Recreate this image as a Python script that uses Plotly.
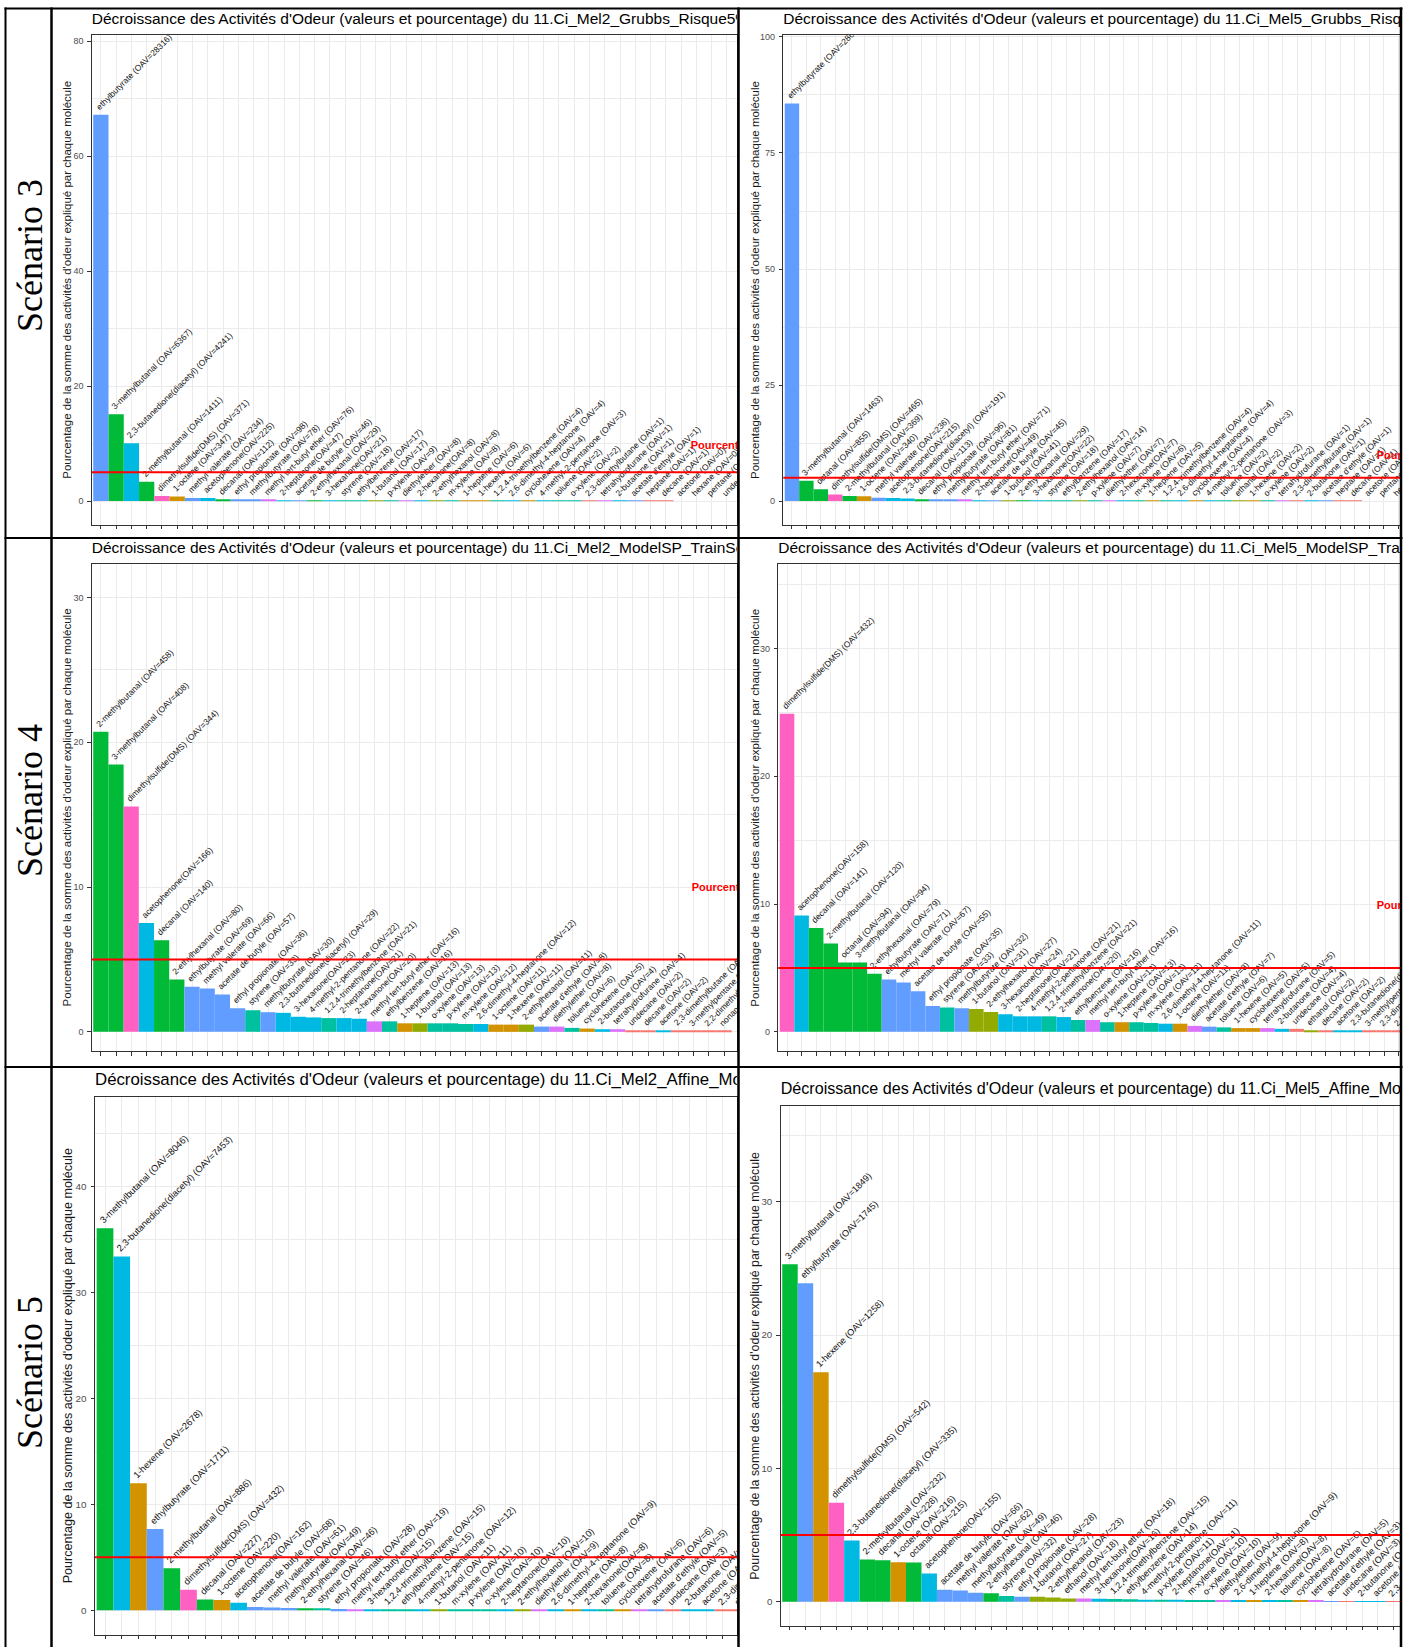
import plotly.graph_objects as go

# ======================= DATA =======================
row_labels = ["Scénario 3", "Scénario 4", "Scénario 5"]
title_prefix = "Décroissance des Activités d'Odeur (valeurs et pourcentage) du "
panel_datasets = [
    "11.Ci_Mel2_Grubbs_Risque5%",
    "11.Ci_Mel5_Grubbs_Risque5%",
    "11.Ci_Mel2_ModelSP_TrainSet",
    "11.Ci_Mel5_ModelSP_TrainSet",
    "11.Ci_Mel2_Affine_Modele",
    "11.Ci_Mel5_Affine_Modele",
]
y_title = "Pourcentage de la somme des activités d'odeur expliqué par chaque molécule"
threshold = 5
threshold_label = "Pourcentage seuil = 5%"

mel2_grubbs_molecules = [
    "ethylbutyrate", "3-methylbutanal", "2,3-butanedione(diacetyl)", "2-methylbutanal",
    "dimethylsulfide(DMS)", "1-octene", "methyl valerate", "acetophenone", "decanal",
    "ethyl propionate", "methylbutyrate", "methyl tert-butyl ether", "2-heptanone",
    "acetate de butyle", "2-ethylhexanal", "3-hexanone", "styrene", "ethylbenzene",
    "1-butanol", "p-xylene", "diethylether", "2-hexanone", "2-ethylhexanol", "m-xylene",
    "1-heptene", "1-hexene", "1,2,4-trimethylbenzene", "2,6-dimethyl-4-heptanone",
    "cyclohexene", "4-methyl-2-pentanone", "toluene", "o-xylene", "2,3-dimethylbutane",
    "tetrahydrofurane", "2-butanone", "acetate d'ethyle", "heptane", "decane", "acetone",
    "hexane", "pentane", "undecane",
]
mel2_grubbs_oav = [
    28316, 6367, 4241, 1411, 371, 347, 234, 225, 112, 98, 78, 76, 47, 46, 29, 21, 18, 17,
    17, 9, 8, 8, 8, 8, 6, 6, 4, 4, 4, 3, 2, 2, 1, 1, 1, 1, 1, 1, 0, 0, 0, 0,
]

mel5_grubbs_molecules = [
    "ethylbutyrate", "3-methylbutanal", "octanal", "dimethylsulfide(DMS)", "2-methylbutanal",
    "1-octene", "methyl valerate", "acetophenone", "2,3-butanedione(diacetyl)", "decanal",
    "ethyl propionate", "methylbutyrate", "methyl tert-butyl ether", "2-heptanone",
    "acetate de butyle", "1-butanol", "2-ethylhexanal", "3-hexanone", "styrene",
    "ethylbenzene", "2-ethylhexanol", "p-xylene", "diethylether", "2-hexanone", "m-xylene",
    "1-heptene", "1,2,4-trimethylbenzene", "2,6-dimethyl-4-heptanone", "cyclohexene",
    "4-methyl-2-pentanone", "toluene", "ethanol", "1-hexene", "o-xylene", "tetrahydrofurane",
    "2,3-dimethylbutane", "2-butanone", "acetate d'ethyle", "heptane", "decane", "acetone",
    "pentane", "hexane",
]
mel5_grubbs_oav = [
    28650, 1463, 855, 465, 369, 340, 236, 215, 191, 113, 96, 81, 71, 49, 45, 41, 29, 22, 18,
    17, 14, 7, 7, 7, 6, 5, 4, 4, 4, 3, 2, 2, 2, 2, 1, 1, 1, 1, 1, 1, 0, 0, 0,
]

mel2_modelsp_molecules = [
    "2-methylbutanal", "3-methylbutanal", "dimethylsulfide(DMS)", "acetophenone", "decanal",
    "2-ethylhexanal", "ethylbutyrate", "methyl valerate", "acetate de butyle",
    "ethyl propionate", "styrene", "methylbutyrate", "2,3-butanedione(diacetyl)",
    "3-hexanone", "4-methyl-2-pentanone", "1,2,4-trimethylbenzene", "2-heptanone",
    "2-hexanone", "methyl tert-butyl ether", "ethylbenzene", "1-heptene", "1-butanol",
    "o-xylene", "p-xylene", "m-xylene", "2,6-dimethyl-4-heptanone", "1-octene", "1-hexene",
    "2-ethylhexanol", "acetate d'ethyle", "diethylether", "toluene", "cyclohexene",
    "2-butanone", "tetrahydrofurane", "undecane", "decane", "acetone", "2,3-dimethylbutane",
    "3-methylpentane", "2,2-dimethylbutane", "nonane",
]
mel2_modelsp_oav = [
    458, 408, 344, 166, 140, 80, 69, 66, 57, 36, 33, 30, 29, 23, 22, 21, 21, 20, 16, 16, 13,
    13, 13, 13, 12, 12, 11, 11, 11, 8, 8, 6, 5, 4, 4, 2, 2, 2, 2, 1, 1, 1,
]

mel5_modelsp_molecules = [
    "dimethylsulfide(DMS)", "acetophenone", "decanal", "2-methylbutanal", "octanal",
    "3-methylbutanal", "2-ethylhexanal", "ethylbutyrate", "methyl valerate",
    "acetate de butyle", "ethyl propionate", "styrene", "methylbutyrate", "1-butanol",
    "2-ethylhexanol", "3-hexanone", "2-heptanone", "4-methyl-2-pentanone",
    "1,2,4-trimethylbenzene", "2-hexanone", "ethylbenzene", "methyl tert-butyl ether",
    "o-xylene", "1-heptene", "p-xylene", "m-xylene", "2,6-dimethyl-4-heptanone", "1-octene",
    "diethylether", "acetate d'ethyle", "toluene", "1-hexene", "cyclohexene",
    "tetrahydrofurane", "2-butanone", "undecane", "ethanol", "decane", "acetone",
    "2,3-butanedione(diacetyl)", "3-methylpentane", "2,3-dimethylbutane", "2,2-dimethylbutane",
]
mel5_modelsp_oav = [
    432, 158, 141, 120, 94, 94, 79, 71, 67, 55, 35, 33, 32, 31, 27, 24, 21, 21, 21, 20, 16,
    16, 13, 13, 13, 12, 11, 11, 8, 7, 6, 5, 5, 5, 4, 4, 2, 2, 2, 2, 1, 1, 1,
]

mel2_affine_molecules = [
    "3-methylbutanal", "2,3-butanedione(diacetyl)", "1-hexene", "ethylbutyrate",
    "2-methylbutanal", "dimethylsulfide(DMS)", "decanal", "1-octene", "acetophenone",
    "acetate de butyle", "methyl valerate", "methylbutyrate", "2-ethylhexanal", "styrene",
    "ethyl propionate", "methyl tert-butyl ether", "3-hexanone", "1,2,4-trimethylbenzene",
    "ethylbenzene", "4-methyl-2-pentanone", "1-butanol", "m-xylene", "p-xylene", "o-xylene",
    "2-heptanone", "2-ethylhexanol", "diethylether", "2,6-dimethyl-4-heptanone", "1-heptene",
    "2-hexanone", "toluene", "cyclohexene", "tetrahydrofurane", "acetate d'ethyle",
    "undecane", "2-butanone", "acetone", "2,3-dimethylbutane", "decane",
]
mel2_affine_oav = [
    8046, 7453, 2678, 1711, 886, 432, 227, 220, 162, 68, 61, 49, 46, 46, 28, 19, 15, 15, 15,
    12, 11, 11, 10, 10, 10, 10, 9, 9, 8, 8, 8, 6, 6, 5, 3, 3, 2, 2, 1,
]

mel5_affine_molecules = [
    "3-methylbutanal", "ethylbutyrate", "1-hexene", "dimethylsulfide(DMS)",
    "2,3-butanedione(diacetyl)", "2-methylbutanal", "decanal", "1-octene", "octanal",
    "acetophenone", "acetate de butyle", "methyl valerate", "methylbutyrate", "2-ethylhexanal",
    "styrene", "ethyl propionate", "1-butanol", "2-ethylhexanol", "ethanol",
    "methyl tert-butyl ether", "3-hexanone", "1,2,4-trimethylbenzene", "ethylbenzene",
    "4-methyl-2-pentanone", "p-xylene", "2-heptanone", "m-xylene", "o-xylene", "diethylether",
    "2,6-dimethyl-4-heptanone", "1-heptene", "2-hexanone", "toluene", "cyclohexene",
    "tetrahydrofurane", "acetate d'ethyle", "undecane", "2-butanone", "acetone",
    "2,3-dimethylbutane",
]
mel5_affine_oav = [
    1849, 1745, 1258, 542, 335, 232, 228, 216, 215, 155, 66, 62, 49, 46, 32, 28, 27, 23, 18,
    18, 16, 15, 14, 11, 11, 11, 10, 10, 9, 9, 8, 8, 8, 6, 5, 3, 3, 2, 2, 1,
]

# chemical family of each molecule (colour grouping of the bars)
molecule_family = {
    "ethylbutyrate": "Esters", "methyl valerate": "Esters", "ethyl propionate": "Esters",
    "methylbutyrate": "Esters", "acetate de butyle": "Esters", "acetate d'ethyle": "Esters",
    "3-methylbutanal": "Aldéhydes", "2-methylbutanal": "Aldéhydes", "decanal": "Aldéhydes",
    "octanal": "Aldéhydes", "2-ethylhexanal": "Aldéhydes",
    "2,3-butanedione(diacetyl)": "Cétones", "acetophenone": "Cétones", "2-heptanone": "Cétones",
    "3-hexanone": "Cétones", "2-hexanone": "Cétones", "2,6-dimethyl-4-heptanone": "Cétones",
    "4-methyl-2-pentanone": "Cétones", "2-butanone": "Cétones", "acetone": "Cétones",
    "dimethylsulfide(DMS)": "Soufrés",
    "1-octene": "Alcènes", "1-heptene": "Alcènes", "1-hexene": "Alcènes", "cyclohexene": "Alcènes",
    "methyl tert-butyl ether": "Ethers", "diethylether": "Ethers", "tetrahydrofurane": "Ethers",
    "styrene": "Aromatiques", "ethylbenzene": "Aromatiques", "p-xylene": "Aromatiques",
    "m-xylene": "Aromatiques", "o-xylene": "Aromatiques", "toluene": "Aromatiques",
    "1,2,4-trimethylbenzene": "Aromatiques",
    "1-butanol": "Alcools", "2-ethylhexanol": "Alcools", "ethanol": "Alcools",
    "2,3-dimethylbutane": "Alcanes", "2,2-dimethylbutane": "Alcanes", "3-methylpentane": "Alcanes",
    "heptane": "Alcanes", "decane": "Alcanes", "hexane": "Alcanes", "pentane": "Alcanes",
    "undecane": "Alcanes", "nonane": "Alcanes",
}

panel_molecules = [mel2_grubbs_molecules, mel5_grubbs_molecules, mel2_modelsp_molecules,
                   mel5_modelsp_molecules, mel2_affine_molecules, mel5_affine_molecules]
panel_oav = [mel2_grubbs_oav, mel5_grubbs_oav, mel2_modelsp_oav,
             mel5_modelsp_oav, mel2_affine_oav, mel5_affine_oav]

# ======================= STYLE / LAYOUT =======================
W, H = 1416, 1647
SANS = "Liberation Sans, Arial, sans-serif"
SERIF = "Liberation Serif, Times New Roman, serif"
FAMILY_COLORS = {
    "Alcanes": "#F8766D", "Alcènes": "#D39200", "Alcools": "#93AA00", "Aldéhydes": "#00BA38",
    "Aromatiques": "#00C19F", "Cétones": "#00B9E3", "Esters": "#619CFF", "Ethers": "#DB72FB",
    "Soufrés": "#FF61C3",
}
NO_SPACE = {"acetophenone", "2-heptanone", "3-hexanone", "2-hexanone"}
LABEL_FS = 8.5
TITLE_FS = 15.5
TICK_FS = 9
YTITLE_FS = 11.5
RED_FS = 11

# pixel geometry of each panel: plot area (left, right, top, bottom), px per category,
# y range, y tick step, title centre, y-title x, red note position, panel left/right,
# text scale of the (resized) panel image, title scale
GEOM = [
    dict(plot=(91.7, 737.0, 32.3, 522.7), unit=15.27, yr=(-4.11, 81.02), dtick=20,
         title_y=17.0, ytx=66.7, red=(39.63, 9.55), pl=53, pr=737, s=1.0, ts=1.0),
    dict(plot=(783.3, 1400.0, 32.3, 522.7), unit=14.43, yr=(-5.10, 100.37), dtick=25,
         title_y=17.3, ytx=755.0, red=(41.52, 9.68), pl=741, pr=1400, s=1.0, ts=1.0),
    dict(plot=(91.7, 737.0, 562.3, 1050.0), unit=15.2, yr=(-1.33, 32.30), dtick=10,
         title_y=547.3, ytx=66.7, red=(39.87, 9.93), pl=53, pr=737, s=1.0, ts=1.0),
    dict(plot=(778.3, 1400.0, 562.3, 1050.0), unit=14.56, yr=(-1.51, 36.59), dtick=10,
         title_y=547.3, ytx=755.0, red=(41.5, 9.82), pl=741, pr=1400, s=1.0, ts=1.0),
    dict(plot=(95.0, 737.0, 1096.3, 1634.7), unit=16.7, yr=(-2.30, 48.40), dtick=10,
         title_y=1079.5, ytx=68.3, red=None, pl=53, pr=737, s=1.095, ts=1.085),
    dict(plot=(780.7, 1400.0, 1105.0, 1625.7), unit=15.47, yr=(-1.80, 37.18), dtick=10,
         title_y=1089.1, ytx=755.0, red=None, pl=741, pr=1400, s=1.075, ts=1.04),
]
ROW_LABEL_POS = [(29.4, 253), (29.4, 799), (29.4, 1372)]

ARIAL = {' ': 278, '(': 333, ')': 333, '=': 584, '-': 333, ',': 278, "'": 191, '.': 278,
         '_': 556, '%': 889, 'a': 556, 'b': 556, 'c': 500, 'd': 556, 'e': 556, 'f': 278,
         'g': 556, 'h': 556, 'i': 222, 'j': 222, 'k': 500, 'l': 222, 'm': 833, 'n': 556,
         'o': 556, 'p': 556, 'q': 556, 'r': 333, 's': 500, 't': 278, 'u': 556, 'v': 500,
         'w': 722, 'x': 500, 'y': 500, 'z': 500, 'A': 667, 'O': 778, 'V': 667, 'D': 722,
         'M': 833, 'S': 667, 'C': 722}


def text_w(s, size):
    return sum(ARIAL.get(ch, 556) for ch in s) * size / 1000.0


def fx(px):
    return px / W


def fy(py):
    return 1 - py / H


fig = go.Figure()
layout_axes = {}
shapes = []
annotations = []

for i, (g, mols, oav) in enumerate(zip(GEOM, panel_molecules, panel_oav)):
    k = i + 1
    s = g["s"]
    xa, ya = ("x", "y") if k == 1 else (f"x{k}", f"y{k}")
    x0p, x1p, y0p, y1p = g["plot"]
    xr = (0.4, 0.4 + (x1p - x0p) / g["unit"])

    total = sum(oav)
    pct = [v / total * 100 for v in oav]
    cats = list(range(1, len(mols) + 1))
    colors = [FAMILY_COLORS[molecule_family[m]] for m in mols]
    labels = [f"{m}{'' if m in NO_SPACE else ' '}(OAV={v})" for m, v in zip(mols, oav)]

    fig.add_trace(go.Bar(
        x=cats, y=pct, width=1, marker=dict(color=colors, line=dict(width=0)),
        xaxis=xa, yaxis=ya, hoverinfo="skip", showlegend=False))

    # rotated labels: start of text at bar centre (shift rotated box to the right)
    lfs = LABEL_FS * s
    th = 1.117 * lfs
    lx = [c + (text_w(t, lfs) - th) * 0.35355 / g["unit"] for c, t in zip(cats, labels)]
    fig.add_trace(go.Bar(
        x=lx, y=[max(p, 1e-3) for p in pct], width=1,
        marker=dict(color="rgba(0,0,0,0)", line=dict(width=0)),
        text=labels, textposition="outside", textangle=-45, constraintext="none",
        cliponaxis=True, textfont=dict(family=SANS, size=lfs, color="#111111"),
        xaxis=xa, yaxis=ya, hoverinfo="skip", showlegend=False))

    if g["red"] is not None:
        fig.add_trace(go.Scatter(
            x=[g["red"][0]], y=[g["red"][1]], mode="text", text=[threshold_label],
            textposition="middle right", cliponaxis=True,
            textfont=dict(family=SANS, size=RED_FS * s, color="#FF0000", weight="bold"),
            xaxis=xa, yaxis=ya, hoverinfo="skip", showlegend=False))

    layout_axes["xaxis" if k == 1 else f"xaxis{k}"] = dict(
        domain=[fx(x0p), fx(x1p)], range=list(xr), anchor=ya, tickmode="linear", tick0=1,
        dtick=1, showticklabels=False, ticks="outside", ticklen=3.5, tickcolor="#333333",
        tickwidth=1, showgrid=True, gridcolor="#EBEBEB", gridwidth=1, zeroline=False,
        showline=True, linecolor="#333333", linewidth=1, mirror=True, fixedrange=True)
    layout_axes["yaxis" if k == 1 else f"yaxis{k}"] = dict(
        domain=[fy(y1p), fy(y0p)], range=list(g["yr"]), anchor=xa, tickmode="linear",
        tick0=0, dtick=g["dtick"], ticks="outside", ticklen=3.5, tickcolor="#333333",
        tickwidth=1, ticklabelstandoff=2,
        tickfont=dict(family=SANS, size=TICK_FS * s, color="#4D4D4D"), showgrid=True,
        gridcolor="#EBEBEB", gridwidth=1, zeroline=False, showline=True,
        linecolor="#333333", linewidth=1, mirror=True, fixedrange=True,
        minor=dict(tick0=0, dtick=g["dtick"] / 2, showgrid=True, gridcolor="#EBEBEB",
                   gridwidth=0.5))

    # red threshold line
    shapes.append(dict(type="line", xref=f"{xa} domain", x0=0, x1=1, yref=ya,
                       y0=threshold, y1=threshold, line=dict(color="#FF0000", width=2)))

    # title on a clipped canvas subplot
    kc = k + 6
    xc, yc = f"x{kc}", f"y{kc}"
    layout_axes[f"xaxis{kc}"] = dict(domain=[fx(g["pl"]), fx(g["pr"])],
                                     range=[g["pl"], g["pr"]], visible=False,
                                     anchor=yc, fixedrange=True)
    layout_axes[f"yaxis{kc}"] = dict(domain=[fy(g["title_y"] + 13), fy(g["title_y"] - 13)],
                                     range=[-13, 13], visible=False, anchor=xc,
                                     fixedrange=True)
    fig.add_trace(go.Scatter(
        x=[x0p], y=[0], mode="text", text=[title_prefix + panel_datasets[i]],
        textposition="middle right", cliponaxis=True,
        textfont=dict(family=SANS, size=TITLE_FS * g["ts"], color="#000000"),
        xaxis=xc, yaxis=yc, hoverinfo="skip", showlegend=False))

    # y-axis title
    annotations.append(dict(
        x=fx(g["ytx"]), y=fy((y0p + y1p) / 2), xref="paper", yref="paper",
        text=y_title, textangle=-90, showarrow=False, xanchor="center", yanchor="middle",
        font=dict(family=SANS, size=YTITLE_FS * s, color="#1a1a1a")))

# row labels
for lbl, (px, py) in zip(row_labels, ROW_LABEL_POS):
    annotations.append(dict(
        x=fx(px), y=fy(py), xref="paper", yref="paper", text=lbl, textangle=-90,
        showarrow=False, xanchor="center", yanchor="middle",
        font=dict(family=SERIF, size=36, color="#000000")))

# table frame
frame_h = [(5.5, 2), (536, 2), (1066, 2)]
frame_v = [(5.5, 2), (51.5, 2.5), (738.5, 2.5), (1401, 2.5)]
for yy, lw in frame_h:
    shapes.append(dict(type="line", xref="paper", yref="paper", x0=fx(4.5), x1=fx(1402.5),
                       y0=fy(yy), y1=fy(yy), line=dict(color="#000000", width=lw),
                       layer="above"))
for xx, lw in frame_v:
    shapes.append(dict(type="line", xref="paper", yref="paper", x0=fx(xx), x1=fx(xx),
                       y0=fy(4.5), y1=fy(H), line=dict(color="#000000", width=lw),
                       layer="above"))

fig.update_layout(
    width=W, height=H, autosize=False, margin=dict(l=0, r=0, t=0, b=0, pad=0),
    paper_bgcolor="white", plot_bgcolor="white", barmode="overlay", showlegend=False,
    shapes=shapes, annotations=annotations, font=dict(family=SANS), **layout_axes)

fig.write_html("out.html", config={"displayModeBar": False},
               post_script="document.body.style.margin='0';")
